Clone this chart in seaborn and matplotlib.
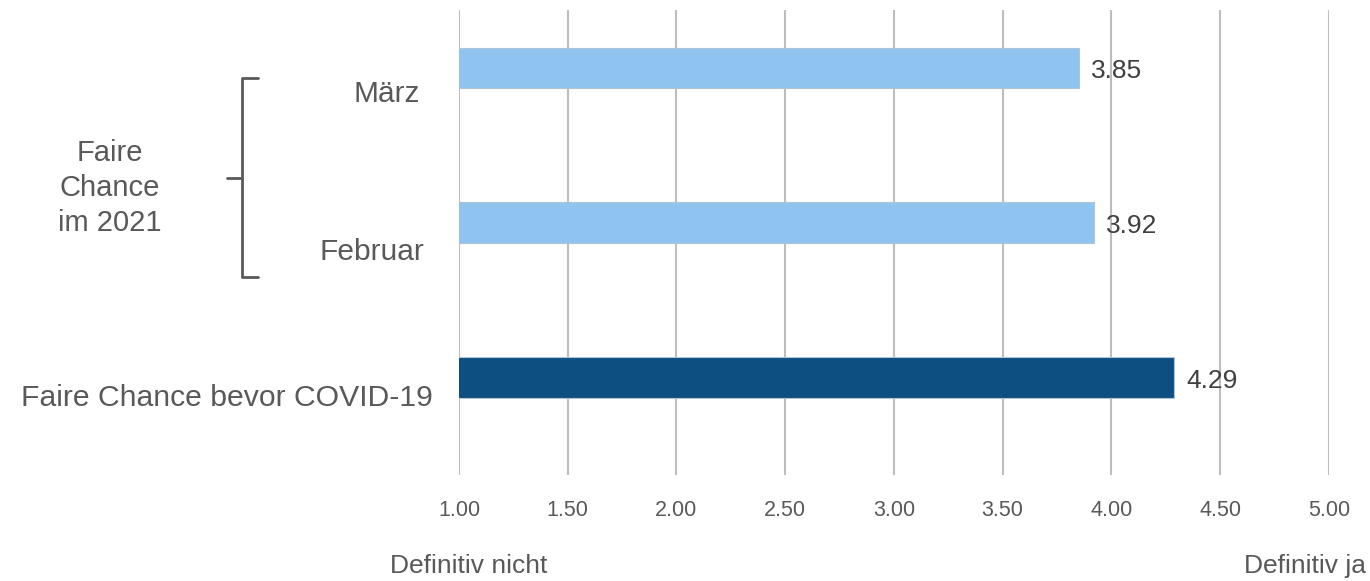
import matplotlib
matplotlib.use("Agg")
import matplotlib.pyplot as plt
import seaborn as sns
import pandas as pd

# Data
categories = ["März", "Februar", "Faire Chance bevor COVID-19"]
values = [3.85, 3.92, 4.29]
bar_colors = ["#8FC4F1", "#8FC4F1", "#0E4F82"]
x_ticks = [1.0, 1.5, 2.0, 2.5, 3.0, 3.5, 4.0, 4.5, 5.0]
group_label = "Faire\nChance\nim 2021"
scale_low = "Definitiv nicht"
scale_high = "Definitiv ja"

df = pd.DataFrame({"Kategorie": categories, "Wert": values})

sns.set_style("white")
plt.rcParams["font.family"] = ["Liberation Sans", "DejaVu Sans"]
grey = "#595959"

fig = plt.figure(figsize=(13.7, 5.81), dpi=100)
ax = fig.add_axes([0.335, 0.182, 0.635, 0.801])

sns.barplot(data=df, x="Wert", y="Kategorie", hue="Kategorie", palette=bar_colors,
            order=categories, width=0.26, legend=False, ax=ax, saturation=1,
            edgecolor="#B0C4D4", linewidth=0.8, zorder=3)

ax.set_xlim(1, 5)
ax.set_ylim(2.632, -0.374)
ax.set_xticks(x_ticks)
ax.set_xticklabels([f"{t:.2f}" for t in x_ticks], fontsize=15.5, color=grey)
ax.tick_params(axis="x", length=0, pad=18)
ax.set_yticks([])
ax.set_xlabel("")
ax.set_ylabel("")
for s in ax.spines.values():
    s.set_visible(False)
ax.grid(axis="x", color="#BDBDBD", linewidth=1.5, zorder=0)
ax.set_axisbelow(True)

# value labels
for i, v in enumerate(values):
    ax.text(v + 0.055, i + 0.02, f"{v:.2f}", va="center", ha="left",
            fontsize=19, color="#404040")

# category labels (sit a bit below the bar centres)
trans = ax.get_yaxis_transform()
ax.text(-0.045, 0.17, categories[0], transform=trans, ha="right", va="center",
        fontsize=21.5, color=grey)
ax.text(-0.04, 1.19, categories[1], transform=trans, ha="right", va="center",
        fontsize=21.5, color=grey)
ax.text(-0.03, 2.13, categories[2], transform=trans, ha="right", va="center",
        fontsize=21.7, color=grey)

# bracket + group label in figure coordinates
def fy(py):
    return 1 - py / 581

def fx(px):
    return px / 1370

bx = [fx(258), fx(242), fx(242), fx(258)]
by = [fy(78), fy(78), fy(277), fy(277)]
fig.add_artist(plt.Line2D(bx, by, color=grey, lw=2))
fig.add_artist(plt.Line2D([fx(227), fx(242)], [fy(178), fy(178)], color=grey, lw=2))
fig.text(fx(110), fy(188), group_label, ha="center", va="center", fontsize=21,
         color=grey, linespacing=1.32)

fig.text(fx(390), fy(566), scale_low, ha="left", va="center", fontsize=19,
         color=grey)
fig.text(fx(1366), fy(566), scale_high, ha="right", va="center", fontsize=19,
         color=grey)

fig.savefig("out.png", dpi=100)
